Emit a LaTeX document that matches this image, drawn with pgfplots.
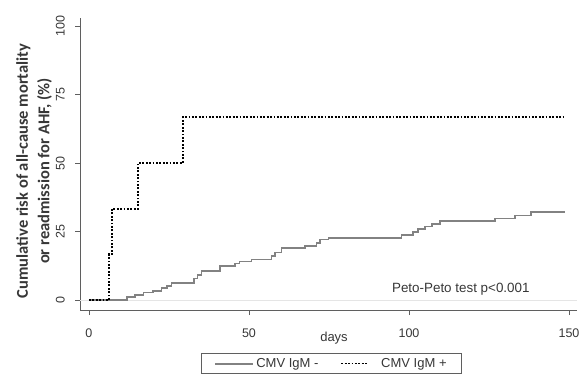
\documentclass[border=0pt]{standalone}
\usepackage{fontspec}
\setmainfont{Liberation Sans}
\newfontfamily\labelfont{Carlito}
\usepackage{pgfplots}
\pgfplotsset{compat=1.18}
\definecolor{solidgray}{RGB}{130,130,130}
\definecolor{axgray}{RGB}{95,95,95}
\definecolor{txtgray}{RGB}{55,55,55}
\pgfplotsset{
  solidleg/.style={legend image code/.code={\draw[##1, line width=2pt] (0pt,0pt) -- (38pt,0pt);}},
  dotleg/.style={legend image code/.code={\draw[##1, line width=1.8pt] (0pt,0pt) -- (27pt,0pt); \path (37pt,0pt);}},
}
\begin{document}
\begin{tikzpicture}[x=1pt,y=1pt]
\path[use as bounding box] (0,0) rectangle (579,376);
\begin{axis}[
  at={(80pt,66pt)}, anchor=south west,
  scale only axis, width=497pt, height=292pt,
  xmin=-2.8, xmax=152.5, ymin=-3.65, ymax=103,
  axis x line*=bottom, axis y line*=left,
  axis line style={axgray, line width=0.9pt, -},
  xtick={0,50,100,150}, ytick={0,25,50,75,100},
  tick align=outside, major tick length=5pt,
  tick style={axgray, line width=0.9pt},
  tick label style={font=\fontsize{12.5}{14}\selectfont, text=txtgray},
  /pgf/number format/assume math mode=true,
  yticklabel style={rotate=90, anchor=south, inner sep=10pt},
  xticklabel style={inner sep=4pt, yshift=-10pt},
  extra y ticks={0}, extra y tick labels={},
  extra y tick style={grid=major, major grid style={black!10, line width=0.6pt}, tick style={draw=none}},
  legend style={at={(0.506,-0.1835)}, anchor=center, draw=axgray, line width=0.8pt,
    legend columns=2, font=\fontsize{13}{15}\selectfont, text=txtgray,
    inner xsep=13pt, inner ysep=3pt,
    /tikz/every even column/.append style={column sep=20pt}},
  clip=false,
]
\addplot[const plot, solidgray, line width=1.6pt, solidleg] coordinates {
(0,0) (11.8,1.0) (14.4,1.8) (17,2.7) (20.1,3.4) (22.7,4.3) (24.3,5.1) (25.8,6.3)
(32.8,7.9) (33.9,9.1) (35.2,10.7) (40.9,12.4) (45.6,13.4) (47,14.0) (50.8,14.8)
(57.1,16.0) (58.1,17.3) (60.2,18.9) (67.5,19.7) (71.1,20.9) (72.2,22.1) (74.8,22.7)
(97.7,23.7) (101.3,24.9) (102.9,25.9) (105,26.8) (107.1,27.7) (109.7,28.9)
(126.9,29.8) (133.1,30.8) (138.1,32.2) (148.8,32.2)
};
\addlegendentry{CMV IgM -}
\addplot[const plot, black, line width=1.8pt, dash pattern=on 1.8pt off 1.6pt, dotleg] coordinates {
(0,0) (6.3,16.7) (7.2,33.3) (15.3,50) (29.3,66.7) (149,66.7)
};
\addlegendentry{CMV IgM +}
\node[font=\fontsize{13.4}{15}\selectfont, text=txtgray] at (axis cs:116.2,4.0) {Peto-Peto test p<0.001};
\end{axis}
\node[font=\fontsize{13}{15}\selectfont, text=txtgray] at (334,38) {days};
\node[rotate=90, align=center, text=txtgray, font=\labelfont\bfseries\fontsize{16.5}{21.6}\selectfont] at (34,205) {Cumulative risk of all-cause mortality\\or readmission for AHF, (\%)};
\end{tikzpicture}
\end{document}
